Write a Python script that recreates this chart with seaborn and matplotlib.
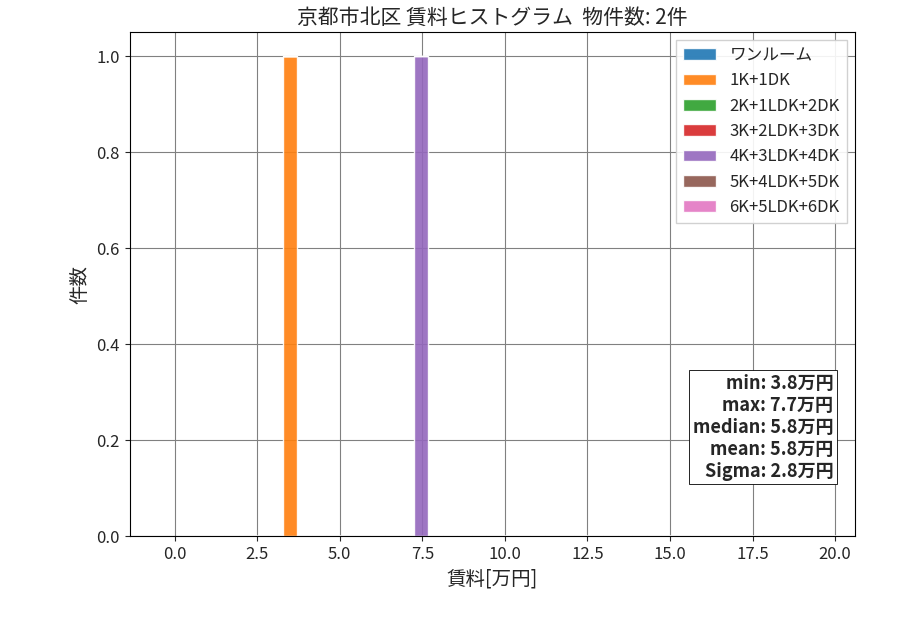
import numpy as np
import pandas as pd
import matplotlib
matplotlib.use("Agg")
import matplotlib.pyplot as plt
import seaborn as sns

categories = ["ワンルーム", "1K+1DK", "2K+1LDK+2DK", "3K+2LDK+3DK", "4K+3LDK+4DK", "5K+4LDK+5DK", "6K+5LDK+6DK"]
rent_by_cat = [[], [3.5], [], [], [7.5], [], []]
stats_text = "min: 3.8万円\nmax: 7.7万円\nmedian: 5.8万円\nmean: 5.8万円\nSigma: 2.8万円"
title = "京都市北区 賃料ヒストグラム  物件数: 2件"

sns.set_style("white")
plt.rcParams['font.family'] = ['Noto Sans CJK JP', 'DejaVu Sans']
plt.rcParams['axes.unicode_minus'] = False

colors = sns.color_palette("tab10", 7)
fig = plt.figure(figsize=(9, 6.3), dpi=100)
ax = fig.add_axes([0.144, 0.149, 0.806, 0.8])
bins = 0.183 + 0.441 * np.arange(47)
ax.hist(rent_by_cat, bins=bins, stacked=True, color=colors, label=categories, alpha=0.9)
ax.set_xlim(-1.36, 20.6)
ax.set_ylim(0, 1.05)
ax.set_xticks(np.arange(0, 20.1, 2.5))
ax.grid(True, color="gray", linewidth=0.8)
ax.set_axisbelow(True)
for s in ax.spines.values():
    s.set_color("black")
ax.tick_params(labelsize=12, left=True, bottom=True)
ax.set_title(title, fontsize=15)
ax.set_xlabel("賃料[万円]", fontsize=14)
ax.set_ylabel("件数", fontsize=14)
ax.legend(loc="upper right", fontsize=12, fancybox=False, framealpha=0.9)
ax.text(0.97, 0.11, stats_text, transform=ax.transAxes, ha="right", va="bottom",
        fontsize=13, fontweight="bold", multialignment="right",
        bbox=dict(facecolor="white", edgecolor="black", linewidth=0.6, boxstyle="square,pad=0.2"))
fig.savefig("out.png", dpi=100)
